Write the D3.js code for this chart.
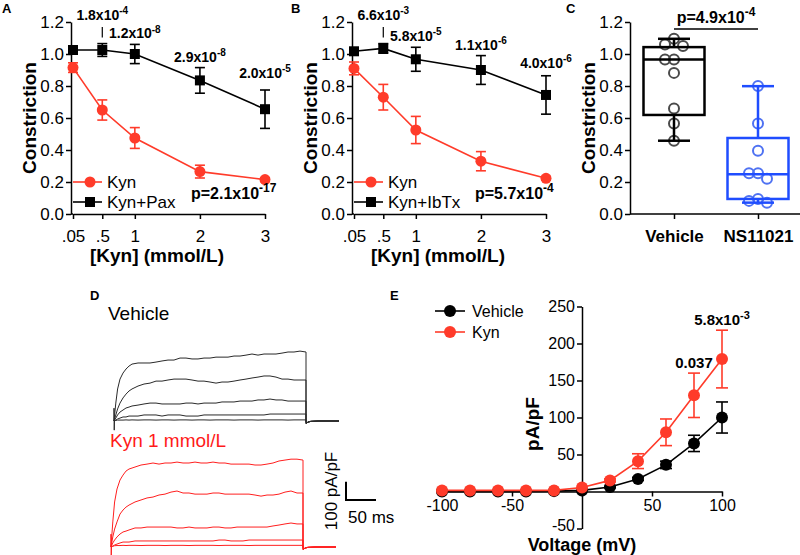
<!DOCTYPE html>
<html>
<head>
<meta charset="utf-8">
<script src="https://cdn.jsdelivr.net/npm/d3@7"></script>
<style>
body { margin: 0; background: #fff; }
svg { display: block; font-family: 'Liberation Sans', Arial, Helvetica, sans-serif; }
.axis { font-family: 'Liberation Sans', Arial, Helvetica, sans-serif; }
.axis path, .axis line { stroke: #000; stroke-width: 1.5; }
.axis text { font-size: 17px; fill: #000; }
.axisE text { font-size: 16px; }
.plabel { font-size: 13px; font-weight: bold; }
.ylab, .xlab { font-size: 19px; font-weight: bold; }
.ann { font-size: 14px; font-weight: bold; }
.pval { font-size: 16px; font-weight: bold; }
.leg { font-size: 17px; }
</style>
</head>
<body>
<div id="chart"></div>
<script>
// Doses shared by panels A and B
var doses = [0.05, 0.5, 1, 2, 3];
var doseLabels = [".05", ".5", "1", "2", "3"];
var constrTicks = [0, 0.2, 0.4, 0.6, 0.8, 1.0, 1.2];

// Panel A: Kyn vs Kyn+Pax
var kynA = [0.915, 0.65, 0.475, 0.265, 0.215];
var kynAErr = [0.03, 0.063, 0.065, 0.04, 0.012];
var paxA = [1.025, 1.025, 1.0, 0.835, 0.655];
var paxAErr = [0.015, 0.04, 0.06, 0.08, 0.12];
var pDoseA = ["", "1.8x10^-4", "1.2x10^-8", "2.9x10^-8", "2.0x10^-5"];
var pAllA = "p=2.1x10^-17";

// Panel B: Kyn vs Kyn+IbTx
var kynB = [0.91, 0.73, 0.525, 0.33, 0.223];
var kynBErr = [0.04, 0.08, 0.085, 0.06, 0.012];
var ibtxB = [1.017, 1.035, 0.967, 0.9, 0.744];
var ibtxBErr = [0.012, 0.03, 0.075, 0.09, 0.12];
var pDoseB = ["", "6.6x10^-3", "5.8x10^-5", "1.1x10^-6", "4.0x10^-6"];
var pAllB = "p=5.7x10^-4";

// Panel C: box plots
var cats = ["Vehicle", "NS11021"];
var vehPts = [1.095, 1.06, 1.05, 0.966, 0.966, 0.882, 0.659, 0.565, 0.458];
var nsPts = [0.80, 0.565, 0.395, 0.255, 0.255, 0.22, 0.094, 0.082, 0.071];
// min, q1, median, q3, max
var boxStats = [[0.458, 0.619, 0.966, 1.043, 1.095], [0.071, 0.094, 0.249, 0.475, 0.799]];
var pC = "p=4.9x10^-4";

// Panel D: current traces (ms, pA/pF)
var traceT = [0, 3, 6, 10, 15, 20, 25, 30, 40, 50, 60, 70, 80, 90, 100, 110, 120, 130, 140, 150,
              160, 170, 180, 190, 200, 210, 220, 230, 240, 250, 260, 270, 280, 290, 300, 310, 320];
var vehTraces = [
  [0, 98, 175, 229, 262, 284, 300, 311, 317, 317, 317, 322, 328, 333, 333, 344, 344, 339, 339, 344,
   344, 349, 349, 349, 355, 355, 360, 366, 360, 366, 366, 366, 371, 377, 377, 382, 377],
  [0, 33, 66, 98, 126, 147, 164, 175, 191, 202, 207, 218, 218, 224, 229, 229, 229, 224, 218, 218,
   213, 207, 213, 213, 218, 224, 229, 235, 240, 246, 246, 240, 229, 229, 224, 224, 224],
  [0, 16, 33, 49, 60, 71, 76, 82, 87, 93, 98, 98, 93, 93, 93, 93, 98, 98, 93, 98,
   98, 98, 104, 104, 104, 109, 109, 109, 115, 115, 120, 115, 115, 109, 109, 109, 109],
  [0, 5, 11, 16, 22, 22, 27, 27, 27, 33, 33, 33, 27, 33, 33, 33, 27, 27, 27, 33,
   33, 33, 33, 33, 33, 33, 33, 33, 33, 33, 38, 38, 38, 38, 38, 38, 38],
  [0, 3, 5, 5, 5, 6, 5, 6, 5, 6, 6, 5, 6, 6, 5, 6, 6, 5, 6, 6,
   5, 6, 6, 6, 5, 6, 6, 6, 5, 6, 6, 6, 6, 5, 6, 6, 6]
];
var kynTraces = [
  [0, 137, 246, 317, 366, 393, 415, 426, 437, 448, 453, 459, 453, 459, 459, 464, 459, 459, 464, 459,
   459, 464, 459, 459, 453, 453, 453, 453, 448, 448, 453, 459, 470, 475, 480, 480, 475],
  [0, 55, 98, 137, 180, 202, 218, 229, 246, 257, 268, 273, 284, 289, 300, 306, 295, 295, 289, 289,
   289, 295, 295, 289, 289, 289, 289, 289, 284, 278, 284, 284, 289, 300, 306, 295, 295],
  [0, 22, 38, 55, 71, 82, 87, 93, 104, 104, 109, 109, 109, 109, 109, 104, 104, 109, 104, 104,
   104, 109, 109, 104, 104, 109, 109, 109, 109, 109, 109, 115, 120, 126, 131, 126, 126],
  [0, 5, 11, 16, 22, 27, 27, 27, 33, 33, 33, 33, 33, 33, 33, 33, 33, 33, 33, 33,
   33, 33, 38, 38, 33, 33, 33, 38, 38, 38, 38, 38, 38, 38, 38, 38, 38],
  [0, 4, 7, 8, 8, 9, 8, 9, 9, 8, 9, 9, 9, 8, 9, 9, 9, 8, 9, 9,
   9, 9, 8, 9, 9, 9, 9, 8, 9, 9, 9, 9, 9, 9, 9, 9, 9]
];
var headT = [0, 0, 0.4, 0.8];
var headV = [0, 70, -50, 0];
var tailT = [320, 320.5, 323, 328, 340, 375];
var tailV = [0, -15, -6, -2, 0, 0];

// Panel E: I-V curves
var volts = [-100, -80, -60, -40, -20, 0, 20, 40, 60, 80, 100];
var ivVeh = [0, 0, 0, 0, 0.5, 1.5, 6, 17, 36, 65, 100];
var ivVehErr = [0, 0, 0, 0, 0, 0, 1, 2, 5, 11, 21];
var ivKyn = [1.5, 1.5, 1.5, 1.5, 1.5, 5.5, 15, 41, 80, 130, 179];
var ivKynErr = [0, 0, 0, 0, 0, 0, 2, 10, 18, 30, 39];
var pVolt = ["", "", "", "", "", "", "", "", "", "0.037", "5.8x10^-3"];

var RED = "#ff3b2a";
var TRACE_RED = "#ff1f1f";

var svg = d3.select("#chart").append("svg")
    .attr("width", 800)
    .attr("height", 555);
svg.append("rect").attr("width", 800).attr("height", 555).attr("fill", "#fff");

// text with a superscript exponent, "1.8x10^-4"
function addSci(textSel, str, size) {
    var parts = str.split("^");
    textSel.append("tspan").text(parts[0]);
    if (parts[1]) {
        textSel.append("tspan")
            .attr("dy", -0.42 * size)
            .attr("font-size", Math.round(size * 0.72))
            .text(parts[1]);
    }
}

function drawMarker(g, shape, cx, cy, color, size) {
    if (shape === "square") {
        g.append("rect").attr("x", cx - size).attr("y", cy - size)
            .attr("width", 2 * size).attr("height", 2 * size).attr("fill", color);
    } else {
        g.append("circle").attr("cx", cx).attr("cy", cy).attr("r", size).attr("fill", color);
    }
}

function drawSeries(g, x, y, xs, ys, es, color, shape, size, cap) {
    var pts = xs.map(function (d, i) { return [d, ys[i], es[i]]; });
    var line = d3.line().x(function (d) { return x(d[0]); }).y(function (d) { return y(d[1]); });
    g.append("path").attr("d", line(pts)).attr("fill", "none")
        .attr("stroke", color).attr("stroke-width", 1.6);
    pts.forEach(function (d) {
        if (d[2] > 0) {
            var cx = x(d[0]);
            var y1 = y(d[1] + d[2]), y2 = y(d[1] - d[2]);
            g.append("line").attr("x1", cx).attr("x2", cx).attr("y1", y1).attr("y2", y2)
                .attr("stroke", color).attr("stroke-width", 1.6);
            [y1, y2].forEach(function (yy) {
                g.append("line").attr("x1", cx - cap).attr("x2", cx + cap).attr("y1", yy).attr("y2", yy)
                    .attr("stroke", color).attr("stroke-width", 1.6);
            });
        }
        drawMarker(g, shape, x(d[0]), y(d[1]), color, size);
    });
}

var yC = d3.scaleLinear().domain([0, 1.2]).range([214, 22]);

function yAxisC(g, xPos) {
    g.append("g").attr("class", "axis")
        .attr("transform", "translate(" + xPos + ",0)")
        .call(d3.axisLeft(yC).tickValues(constrTicks).tickFormat(d3.format(".1f"))
            .tickSize(5).tickPadding(2).tickSizeOuter(0));
    g.append("text").attr("class", "ylab")
        .attr("transform", "translate(" + (xPos - 35) + ",118) rotate(-90)")
        .attr("text-anchor", "middle").text("Constriction");
}

function dosePanel(o) {
    var x = d3.scaleLinear().domain([0.05, 3]).range([o.x0, o.x0 + 192]);
    var g = svg.append("g");
    g.append("text").attr("class", "plabel").attr("x", o.lx).attr("y", 13).text(o.label);
    yAxisC(g, o.x0 - 2);
    g.append("g").attr("class", "axis").attr("transform", "translate(0,214)")
        .call(d3.axisBottom(x).tickValues(doses).tickFormat(function (d, i) { return doseLabels[i]; })
            .tickSize(5).tickPadding(11).tickSizeOuter(0));
    g.append("line").attr("x1", o.x0 - 2).attr("x2", o.x0).attr("y1", 214).attr("y2", 214)
        .attr("stroke", "#000").attr("stroke-width", 1.5);
    g.append("text").attr("class", "xlab").attr("x", o.x0 + 84).attr("y", 262)
        .attr("text-anchor", "middle").text("[Kyn] (mmol/L)");

    drawSeries(g, x, yC, doses, o.ctrl, o.ctrlErr, "#000", "square", 5, 5);
    drawSeries(g, x, yC, doses, o.kyn, o.kynErr, RED, "circle", 5.5, 5);

    // per-dose p values above the treated curve
    o.pDose.forEach(function (s, i) {
        if (!s) return;
        var top = yC(o.ctrl[i] + o.ctrlErr[i]);
        var cx = x(doses[i]);
        var by = top - 6;
        if (i === 1) {
            by = 20;
            g.append("line").attr("x1", cx).attr("x2", cx).attr("y1", 27).attr("y2", top - 6)
                .attr("stroke", "#000").attr("stroke-width", 1.2);
        }
        if (i === 4) by = top - o.lastGap;
        addSci(g.append("text").attr("class", "ann").attr("x", cx).attr("y", by)
            .attr("text-anchor", "middle"), s, 14);
    });

    addSci(g.append("text").attr("class", "pval").attr("x", o.pX).attr("y", 199), o.pAll, 16);

    // legend
    var legs = [{ c: RED, s: "circle", t: "Kyn", y: 182 }, { c: "#000", s: "square", t: o.ctrlName, y: 202 }];
    legs.forEach(function (l) {
        g.append("line").attr("x1", o.x0).attr("x2", o.x0 + 29).attr("y1", l.y).attr("y2", l.y)
            .attr("stroke", l.c).attr("stroke-width", 1.6);
        drawMarker(g, l.s, o.x0 + 17, l.y, l.c, l.s === "square" ? 5 : 5.5);
        g.append("text").attr("class", "leg").attr("x", o.x0 + 34).attr("y", l.y).attr("dy", "0.35em").text(l.t);
    });
}

dosePanel({ label: "A", lx: 2, x0: 73, kyn: kynA, kynErr: kynAErr, ctrl: paxA, ctrlErr: paxAErr,
    ctrlName: "Kyn+Pax", pDose: pDoseA, pAll: pAllA, pX: 191, lastGap: 12 });
dosePanel({ label: "B", lx: 291, x0: 354, kyn: kynB, kynErr: kynBErr, ctrl: ibtxB, ctrlErr: ibtxBErr,
    ctrlName: "Kyn+IbTx", pDose: pDoseB, pAll: pAllB, pX: 475, lastGap: 8 });

// ---------- Panel C ----------
(function () {
    var g = svg.append("g");
    var x = d3.scalePoint().domain(cats).range([674, 758]);
    g.append("text").attr("class", "plabel").attr("x", 566).attr("y", 13).text("C");
    yAxisC(g, 630);
    var xa = g.append("g").attr("class", "axis").attr("transform", "translate(0,214)")
        .call(d3.axisBottom(x).tickSize(5).tickPadding(11).tickSizeOuter(0));
    xa.select(".domain").remove();
    xa.selectAll("text").attr("font-weight", "bold");
    g.append("line").attr("x1", 630).attr("x2", 800).attr("y1", 214).attr("y2", 214)
        .attr("stroke", "#000").attr("stroke-width", 1.5);

    var boxCol = ["#000", "#1f4dff"];
    var ptCol = ["#4a4a4a", "#4f72f2"];
    var r = 5;

    function swarm(vals) {
        var placed = [], off = [];
        var order = vals.map(function (v, i) { return i; }).sort(function (a, b) { return vals[b] - vals[a]; });
        order.forEach(function (i) {
            var py = yC(vals[i]);
            for (var k = 0; k < 30; k++) {
                var dx = k === 0 ? 0 : (k % 2 ? -1 : 1) * Math.ceil(k / 2) * r * 0.9;
                var ok = placed.every(function (p) { return Math.hypot(p[0] - dx, p[1] - py) >= 2 * r * 0.85; });
                if (ok) { off[i] = dx; placed.push([dx, py]); break; }
            }
        });
        return off;
    }

    [vehPts, nsPts].forEach(function (pts, ci) {
        var cx = x(cats[ci]);
        var s = boxStats[ci];
        var col = boxCol[ci];
        var offs = swarm(pts);
        pts.forEach(function (v, i) {
            g.append("circle").attr("cx", cx + offs[i]).attr("cy", yC(v)).attr("r", r)
                .attr("fill", "none").attr("stroke", ptCol[ci]).attr("stroke-width", 2);
        });
        g.append("rect").attr("x", cx - 30.5).attr("width", 61)
            .attr("y", yC(s[3])).attr("height", yC(s[1]) - yC(s[3]))
            .attr("fill", "none").attr("stroke", col).attr("stroke-width", 2.5);
        g.append("line").attr("x1", cx - 30.5).attr("x2", cx + 30.5).attr("y1", yC(s[2])).attr("y2", yC(s[2]))
            .attr("stroke", col).attr("stroke-width", 2.5);
        [[s[3], s[4]], [s[1], s[0]]].forEach(function (w) {
            g.append("line").attr("x1", cx).attr("x2", cx).attr("y1", yC(w[0])).attr("y2", yC(w[1]))
                .attr("stroke", col).attr("stroke-width", 2.5);
            g.append("line").attr("x1", cx - 16).attr("x2", cx + 16).attr("y1", yC(w[1])).attr("y2", yC(w[1]))
                .attr("stroke", col).attr("stroke-width", 2.5);
        });
    });

    g.append("line").attr("x1", x(cats[0])).attr("x2", x(cats[1])).attr("y1", 29).attr("y2", 29)
        .attr("stroke", "#000").attr("stroke-width", 1.5);
    addSci(g.append("text").attr("class", "pval").attr("x", (x(cats[0]) + x(cats[1])) / 2).attr("y", 23)
        .attr("text-anchor", "middle"), pC, 16);
})();

// ---------- Panel D ----------
(function () {
    var g = svg.append("g");
    g.append("text").attr("class", "plabel").attr("x", 90).attr("y", 300).text("D");
    g.append("text").attr("x", 108).attr("y", 320).attr("font-size", 19).text("Vehicle");
    g.append("text").attr("x", 110).attr("y", 447).attr("font-size", 19).attr("fill", "#ff1a1a").text("Kyn 1 mmol/L");

    function traceGroup(traces, x0, base, color) {
        var x = d3.scaleLinear().domain([0, 320]).range([x0, x0 + 192]);
        var y = d3.scaleLinear().domain([0, 100]).range([base, base - 18.3]);
        var line = d3.line().x(function (d) { return x(d[0]); }).y(function (d) { return y(d[1]); });
        traces.forEach(function (tr, k) {
            var pts = [];
            if (k === 0) headT.forEach(function (t, i) { pts.push([t, headV[i]]); });
            traceT.forEach(function (t, i) { if (tr[i] !== undefined) pts.push([t, tr[i]]); });
            tailT.forEach(function (t, i) { pts.push([t, tailV[i]]); });
            g.append("path").attr("d", line(pts)).attr("fill", "none")
                .attr("stroke", color).attr("stroke-width", 1).attr("stroke-linejoin", "round");
        });
        return { x: x, y: y };
    }
    traceGroup(vehTraces, 114, 421, "#2a2a2a");
    var s = traceGroup(kynTraces, 111, 547, TRACE_RED);

    // scale bar: 100 pA/pF, 50 ms
    var bx = 346, by = 500;
    var h = s.y(0) - s.y(100), w = s.x(50) - s.x(0);
    g.append("path").attr("d", "M" + bx + "," + (by - h) + "V" + by + "H" + (bx + w))
        .attr("fill", "none").attr("stroke", "#000").attr("stroke-width", 2);
    g.append("text").attr("transform", "translate(337,491) rotate(-90)").attr("text-anchor", "middle")
        .attr("font-size", 17).text("100 pA/pF");
    g.append("text").attr("x", 348).attr("y", 523).attr("font-size", 17).text("50 ms");
})();

// ---------- Panel E ----------
(function () {
    var g = svg.append("g");
    var x = d3.scaleLinear().domain([-100, 100]).range([442, 722]);
    var y = d3.scaleLinear().domain([-50, 250]).range([528.5, 306.5]);
    g.append("text").attr("class", "plabel").attr("x", 390).attr("y", 300).text("E");

    var ya = g.append("g").attr("class", "axis axisE").attr("transform", "translate(" + x(0) + ",0)")
        .call(d3.axisLeft(y).tickValues([-50, 50, 100, 150, 200, 250]).tickFormat(function (d) { return String(d); })
            .tickSize(5).tickPadding(2).tickSizeOuter(0));
    // lift the bottom label a little so it clears the axis title
    ya.selectAll(".tick text").filter(function (d) { return d === -50; }).attr("dy", "0.1em");
    g.append("g").attr("class", "axis axisE").attr("transform", "translate(0," + y(0) + ")")
        .call(d3.axisBottom(x).tickValues([-100, -50, 0, 50, 100])
            .tickFormat(function (d) { return d === 0 ? "" : String(d); })
            .tickSize(5).tickPadding(3).tickSizeOuter(0));

    g.append("text").attr("class", "ylab").attr("font-size", 17)
        .attr("transform", "translate(539,424) rotate(-90)").attr("text-anchor", "middle").text("pA/pF");
    g.append("text").attr("class", "xlab").attr("x", 582).attr("y", 551).attr("text-anchor", "middle")
        .style("font-size", "18px").text("Voltage (mV)");

    drawSeries(g, x, y, volts, ivVeh, ivVehErr, "#000", "circle", 6, 6);
    drawSeries(g, x, y, volts, ivKyn, ivKynErr, RED, "circle", 6, 6);

    pVolt.forEach(function (s, i) {
        if (!s) return;
        var top = y(ivKyn[i] + ivKynErr[i]);
        addSci(g.append("text").attr("class", "pval").attr("x", x(volts[i])).attr("y", top - 5)
            .attr("text-anchor", "middle").style("font-size", "15px"), s, 15);
    });

    var legs = [{ c: "#000", t: "Vehicle", y: 311 }, { c: RED, t: "Kyn", y: 332 }];
    legs.forEach(function (l) {
        g.append("line").attr("x1", 435).attr("x2", 465).attr("y1", l.y).attr("y2", l.y)
            .attr("stroke", l.c).attr("stroke-width", 1.6);
        g.append("circle").attr("cx", 450).attr("cy", l.y).attr("r", 6).attr("fill", l.c);
        g.append("text").attr("x", 472).attr("y", l.y).attr("dy", "0.35em").attr("font-size", 16).text(l.t);
    });
})();
</script>
</body>
</html>
